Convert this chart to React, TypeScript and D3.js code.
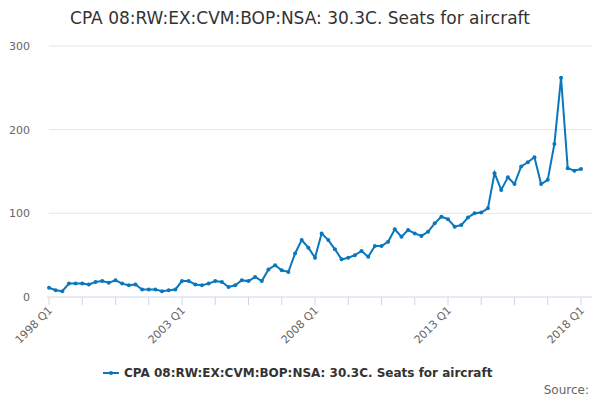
import * as d3 from "d3";

const title = "CPA 08:RW:EX:CVM:BOP:NSA: 30.3C. Seats for aircraft";
const startYear = 1998;
const values = [
  11, 8, 7, 16, 16, 16, 15, 18, 19, 17, 20, 16, 14, 15, 9, 9, 9, 7, 8, 9,
  19, 19, 15, 14, 16, 19, 18, 12, 14, 20, 19, 24, 19, 33, 38, 32, 30, 52, 68, 59, 47,
  76, 68, 57, 45, 47, 50, 55, 48, 61, 61, 66, 81, 72, 80, 76, 73, 78, 88, 96, 93,
  84, 86, 95, 100, 101, 106, 148, 128, 143, 135, 156, 161, 167, 135, 140, 183, 262, 154, 151, 153,
];
const yTicks = [0, 100, 200, 300];

const W = 600, H = 400;
const m = { top: 46, right: 18, bottom: 103, left: 49 };
const color = "#0a77bd";
const font = "'DejaVu Sans', sans-serif";

export default function App() {
  const x = d3.scaleLinear().domain([0, values.length - 1]).range([m.left, W - m.right - 1]);
  const y = d3.scaleLinear().domain([0, 300]).range([H - m.bottom, m.top]);
  const line = d3.line<number>().x((_, i) => x(i)).y(d => y(d));
  const minor = d3.range(0, values.length, 5);
  const major = d3.range(0, values.length, 20);
  const y0 = y(0);
  return (
    <svg width={W} height={H} style={{ position: "absolute", left: 0, top: 0, fontFamily: font }}>
      <rect width={W} height={H} fill="#fff" />
      <text x={W / 2} y={24} textAnchor="middle" fontSize={17} fill="#333">{title}</text>
      {yTicks.map(t => (
        <g key={t}>
          {t > 0 && <line x1={m.left} x2={W - 8} y1={y(t)} y2={y(t)} stroke="#e6e6e6" />}
          <text x={30} y={y(t) + 4} textAnchor="end" fontSize={11} fill="#666">{t}</text>
        </g>
      ))}
      <line x1={m.left - 2} x2={W - 8} y1={y0} y2={y0} stroke="#ccd6eb" />
      {minor.map(i => (
        <line key={i} x1={x(i)} x2={x(i)} y1={y0} y2={y0 + 8} stroke="#ccd6eb" />
      ))}
      {major.map(i => (
        <text key={i} transform={`translate(${x(i) + 4},${y0 + 14}) rotate(-45)`} textAnchor="end" fontSize={11} fill="#666">
          {`${startYear + i / 4} Q1`}
        </text>
      ))}
      <path d={line(values) ?? ""} fill="none" stroke={color} strokeWidth={2} />
      {values.map((v, i) => (
        <circle key={i} cx={x(i)} cy={y(v)} r={2} fill={color} />
      ))}
      <line x1={103} x2={119} y1={373} y2={373} stroke={color} strokeWidth={2} />
      <circle cx={111} cy={373} r={2} fill={color} />
      <text x={124} y={377} fontSize={12} fontWeight="bold" fill="#333">{title}</text>
      <text x={589} y={394} textAnchor="end" fontSize={12} fill="#666">Source:</text>
    </svg>
  );
}
